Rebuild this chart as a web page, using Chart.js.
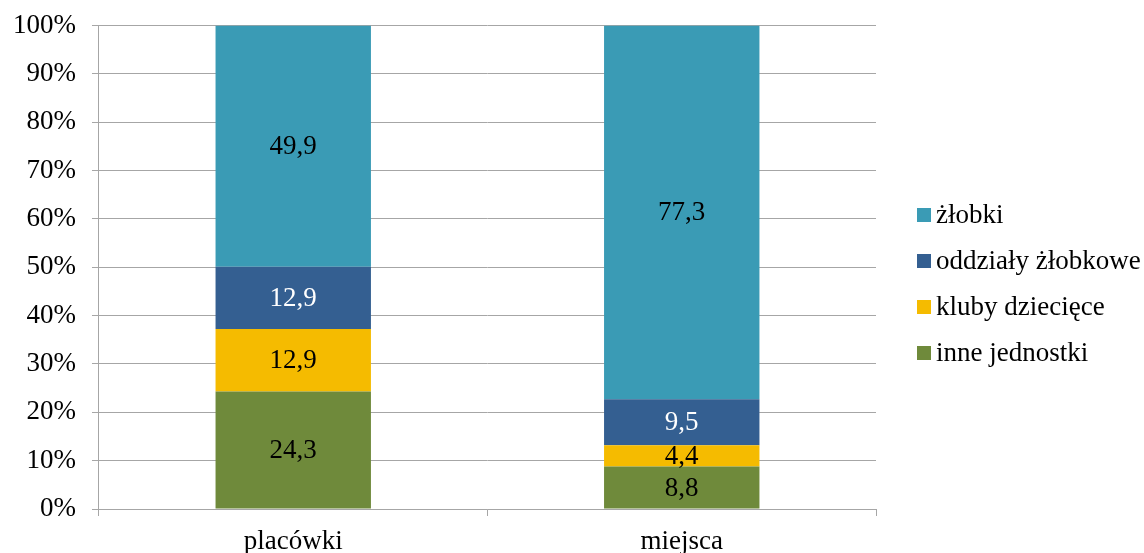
<!DOCTYPE html>
<html>
<head>
<meta charset="utf-8">
<script src="https://cdn.jsdelivr.net/npm/chart.js@4/dist/chart.umd.min.js"></script>
<style>
  html, body { margin: 0; padding: 0; background: #fff; }
  #wrap { width: 1144px; height: 553px; }
</style>
</head>
<body>
<div id="wrap"><canvas id="myChart"></canvas></div>
<script>
const categories = ['placówki', 'miejsca'];
const inneJednostki = [24.3, 8.8];
const klubyDzieciece = [12.9, 4.4];
const oddzialyZlobkowe = [12.9, 9.5];
const zlobki = [49.9, 77.3];
const yTicks = [0, 10, 20, 30, 40, 50, 60, 70, 80, 90, 100];

const FONT = '"Liberation Serif", "Times New Roman", serif';
const FONT_SIZE = 27;

// value labels in the middle of each segment
const segmentLabels = {
    id: 'segmentLabels',
    afterDatasetsDraw(chart) {
        const ctx = chart.ctx;
        ctx.save();
        ctx.font = FONT_SIZE + 'px ' + FONT;
        ctx.textAlign = 'center';
        ctx.textBaseline = 'middle';
        chart.data.datasets.forEach((ds, i) => {
            const meta = chart.getDatasetMeta(i);
            meta.data.forEach((bar, j) => {
                const v = ds.data[j];
                ctx.fillStyle = ds.labelColor;
                ctx.fillText(v.toFixed(1).replace('.', ','), bar.x, (bar.y + bar.base) / 2 + 1);
            });
        });
        ctx.restore();
    }
};

// legend on the right, top series first, like the original
const sideLegend = {
    id: 'sideLegend',
    afterDraw(chart) {
        const ctx = chart.ctx;
        const area = chart.chartArea;
        const boxX = area.right + 41;
        const box = 14;
        const step = 46;
        const firstY = 215;
        ctx.save();
        ctx.font = FONT_SIZE + 'px ' + FONT;
        ctx.textBaseline = 'middle';
        ctx.textAlign = 'left';
        const items = chart.data.datasets.slice().reverse();
        items.forEach((ds, k) => {
            const cy = firstY + k * step;
            ctx.fillStyle = ds.backgroundColor;
            ctx.fillRect(boxX, cy - box / 2, box, box);
            ctx.fillStyle = '#000';
            ctx.fillText(ds.label, boxX + box + 5, cy + 1);
        });
        ctx.restore();
    }
};

const gridColor = '#a6a6a6';

new Chart(document.getElementById('myChart'), {
    type: 'bar',
    data: {
        labels: categories,
        datasets: [
            { label: 'inne jednostki', data: inneJednostki, backgroundColor: '#6f8a3b', labelColor: '#000' },
            { label: 'kluby dziecięce', data: klubyDzieciece, backgroundColor: '#f5bb00', labelColor: '#000' },
            { label: 'oddziały żłobkowe', data: oddzialyZlobkowe, backgroundColor: '#345f91', labelColor: '#fff' },
            { label: 'żłobki', data: zlobki, backgroundColor: '#3a9bb5', labelColor: '#000' }
        ]
    },
    options: {
        responsive: true,
        maintainAspectRatio: false,
        animation: false,
        layout: { padding: { left: -3, top: -2, right: 268, bottom: -14 } },
        datasets: {
            bar: { categoryPercentage: 1, barPercentage: 0.4 }
        },
        scales: {
            x: {
                stacked: true,
                grid: { drawOnChartArea: false, drawTicks: true, tickLength: 7, color: gridColor },
                border: { color: gridColor },
                ticks: { color: '#000', font: { family: FONT, size: FONT_SIZE, lineHeight: 1 }, padding: 12 }
            },
            y: {
                stacked: true,
                min: 0,
                max: 100,
                afterBuildTicks: (axis) => { axis.ticks = yTicks.map(v => ({ value: v })); },
                grid: { color: gridColor, tickLength: 7 },
                border: { color: gridColor },
                ticks: {
                    color: '#000',
                    font: { family: FONT, size: FONT_SIZE, lineHeight: 0.7 },
                    padding: 16,
                    callback: (v) => v + '%'
                }
            }
        },
        plugins: {
            legend: { display: false },
            tooltip: { enabled: false }
        }
    },
    plugins: [segmentLabels, sideLegend]
});
</script>
</body>
</html>
